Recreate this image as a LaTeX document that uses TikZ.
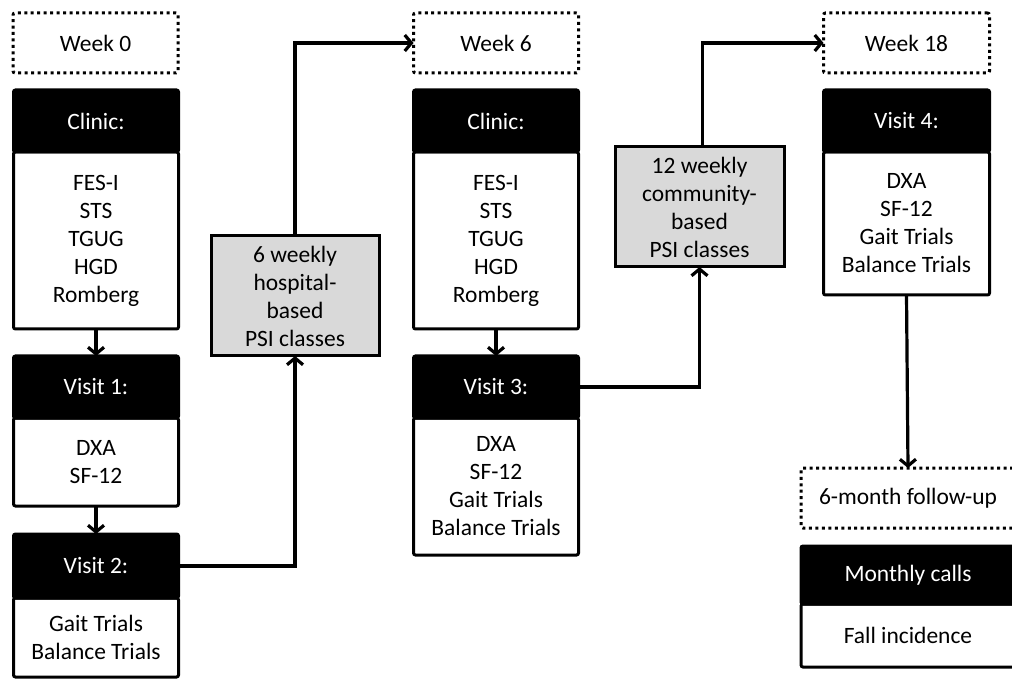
\documentclass[tikz,border=0pt]{standalone}
\usepackage{fontspec}
\setmainfont{Carlito}
\usetikzlibrary{arrows.meta}
\begin{document}
\begin{tikzpicture}[x=0.75pt,y=-0.75pt,
  every node/.style={font=\fontsize{17.6}{21}\selectfont, align=center, inner sep=0pt, outer sep=0pt},
  sz/.style 2 args={minimum width=#1*0.75pt, minimum height=#2*0.75pt},
  weekbox/.style={draw=black, line width=2.25pt, dash pattern=on 2.25pt off 2.6pt, rounded corners=1.5pt},
  hdr/.style={draw=black, fill=black, text=white, line width=2.25pt, rounded corners=1.5pt},
  bodybox/.style={draw=black, fill=white, line width=2.25pt, rounded corners=1.5pt},
  psibox/.style={draw=black, fill=gray!30, line width=2.25pt},
  arr/.style={line width=2.4pt, -{Straight Barb[length=5pt,width=12pt]}},
  conn/.style={line width=2.4pt}
]
\useasboundingbox (0,0) rectangle (1012,680);

% Column 1
\node[weekbox, sz={165}{60}] (week0) at (95.5,43) {Week 0};
\node[bodybox, sz={165}{177}] (clinic1b) at (96,240.5) {FES-I\\STS\\TGUG\\HGD\\Romberg};
\node[hdr, sz={165}{62}] (clinic1h) at (96,121) {Clinic:};
\node[bodybox, sz={165}{88}] (visit1b) at (96,462) {DXA\\SF-12};
\node[hdr, sz={165}{62}] (visit1h) at (96,387) {Visit 1:};
\node[bodybox, sz={165}{79}] (visit2b) at (96,637.5) {Gait Trials\\Balance Trials};
\node[hdr, sz={165}{64}] (visit2h) at (96,566) {Visit 2:};

\node[psibox, sz={168}{120}] (psi1) at (295,296) {6 weekly\\hospital-\\based\\PSI classes};

% Column 2
\node[weekbox, sz={165}{60}] (week6) at (496,43) {Week 6};
\node[bodybox, sz={165}{177}] (clinic2b) at (496,240.5) {FES-I\\STS\\TGUG\\HGD\\Romberg};
\node[hdr, sz={165}{62}] (clinic2h) at (496,121) {Clinic:};
\node[bodybox, sz={165}{137}] (visit3b) at (496,486.5) {DXA\\SF-12\\Gait Trials\\Balance Trials};
\node[hdr, sz={165}{62}] (visit3h) at (496,387) {Visit 3:};

\node[psibox, sz={169}{120}] (psi2) at (699.5,207) {12 weekly\\community-\\based\\PSI classes};

% Column 3
\node[weekbox, sz={166}{60}] (week18) at (906.5,43) {Week 18};
\node[bodybox, sz={166}{143}] (visit4b) at (906.5,223.5) {DXA\\SF-12\\Gait Trials\\Balance Trials};
\node[hdr, sz={166}{62}] (visit4h) at (906.5,121) {Visit 4:};

\node[weekbox, sz={214}{60}] (follow) at (908,498) {6-month follow-up};
\node[bodybox, sz={214}{63}] (callsb) at (908,635.5) {Fall incidence};
\node[hdr, sz={214}{58}] (callsh) at (908,575) {Monthly calls};

% Connectors
\draw[arr] (clinic1b.south) -- (visit1h.north);
\draw[arr] (visit1b.south) -- (visit2h.north);
\draw[arr] (visit2h.east) -| (psi1.south);
\draw[arr] (psi1.north) |- (week6.west);
\draw[arr] (clinic2b.south) -- (visit3h.north);
\draw[arr] (visit3h.east) -| (psi2.south);
\draw[arr] ([xshift=3*0.75pt]psi2.north) |- (week18.west);
\draw[arr] (visit4b.south) -- (follow.north);
\end{tikzpicture}
\end{document}
